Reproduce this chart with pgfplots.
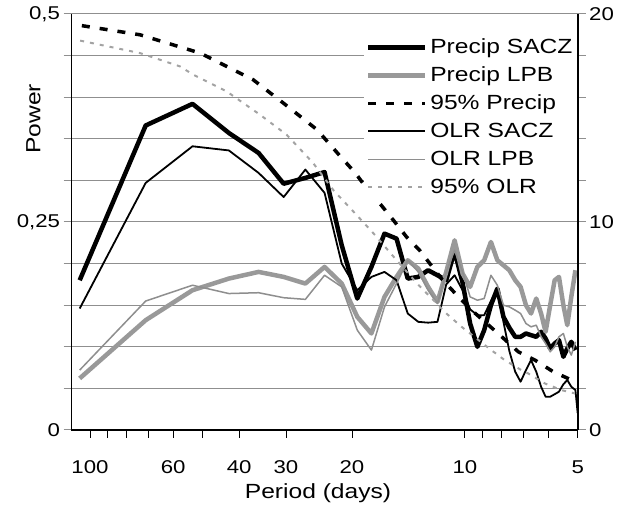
\documentclass[border=0pt]{standalone}
\usepackage{fontspec}
\setmainfont{Liberation Sans}[FakeStretch=1.2]
\usepackage{pgfplots}
\usepackage{pgfplotstable}
\pgfplotsset{compat=1.18}

\definecolor{thickgray}{HTML}{999999}
\definecolor{thingray}{HTML}{8E8E8E}
\definecolor{dotgray}{HTML}{A3A3A3}
\definecolor{gridgray}{HTML}{8F8F8F}

% power spectra, one row per harmonic (period in days)
\pgfplotstableread{
P      psacz  plpb   osacz  olpb
106.5  0.180  0.062  0.146  0.072
71     0.366  0.132  0.297  0.155
53.25  0.392  0.168  0.341  0.174
42.6   0.357  0.182  0.336  0.164
35.5   0.333  0.190  0.309  0.165
30.43  0.296  0.184  0.280  0.159
26.63  0.303  0.176  0.313  0.157
23.67  0.310  0.196  0.285  0.186
21.3   0.222  0.176  0.200  0.172
19.36  0.158  0.136  0.168  0.120
17.75  0.196  0.116  0.184  0.096
16.38  0.236  0.160  0.190  0.148
15.21  0.230  0.184  0.180  0.176
14.2   0.182  0.204  0.140  0.204
13.31  0.184  0.194  0.130  0.190
12.53  0.192  0.172  0.129  0.168
11.83  0.186  0.154  0.130  0.152
11.21  0.180  0.190  0.175  0.190
10.65  0.215  0.228  0.186  0.216
10.14  0.177  0.188  0.168  0.190
9.68   0.128  0.172  0.145  0.160
9.26   0.100  0.196  0.138  0.156
8.88   0.120  0.204  0.138  0.158
8.52   0.150  0.226  0.155  0.186
8.19   0.170  0.204  0.170  0.174
7.89   0.136  0.198  0.130  0.150
7.61   0.123  0.192  0.095  0.148
7.34   0.112  0.180  0.070  0.144
7.1    0.112  0.172  0.058  0.140
6.87   0.116  0.150  0.072  0.128
6.66   0.114  0.140  0.084  0.124
6.45   0.112  0.158  0.070  0.126
6.26   0.118  0.140  0.052  0.112
6.09   0.110  0.118  0.040  0.104
5.92   0.098  0.150  0.040  0.094
5.76   0.104  0.180  0.043  0.100
5.61   0.108  0.184  0.046  0.112
5.46   0.088  0.150  0.055  0.116
5.33   0.098  0.126  0.060  0.100
5.2    0.106  0.160  0.052  0.090
5.07   0.096  0.192  0.048  0.106
5.0    nan    nan    0.020  nan
}\spec

% 95% confidence curves
\pgfplotstableread{
P      v
105.1  0.486
73.5   0.475
50.8   0.453
45.9   0.443
36.7   0.421
30.5   0.393
24.8   0.361
21.3   0.327
19.6   0.309
18.1   0.288
16.7   0.270
15.5   0.252
14.3   0.232
13.2   0.216
12.3   0.198
11.6   0.183
10.5   0.162
9.59   0.144
7.97   0.112
7.20   0.094
6.50   0.084
5.81   0.070
5.19   0.060
}\sigprecip

\pgfplotstableread{
P      v
106.2  0.468
73.5   0.453
65.0   0.445
57.5   0.437
53.0   0.427
43.2   0.407
35.2   0.379
29.9   0.355
25.4   0.321
22.4   0.288
19.4   0.258
17.5   0.236
15.2   0.204
13.4   0.176
11.2   0.140
10.2   0.124
8.50   0.096
7.83   0.084
7.07   0.072
6.78   0.068
6.12   0.056
5.53   0.048
5.09   0.044
}\sigolr

\newcommand\bigfont{\fontsize{20.5}{24}\selectfont}
\newcommand\tickfont{\fontsize{18.5}{22}\selectfont}

\begin{document}
\begin{tikzpicture}
\path[use as bounding box] (0,0) rectangle (618pt,508pt);
\begin{axis}[
	at={(324.6pt,286pt)}, anchor=center,
	scale only axis, width=506.2pt, height=416pt,
	xmode=log, xmin=0.00892857, xmax=0.2,
	ymin=0, ymax=0.5,
	axis x line*=bottom, axis y line*=left,
	axis line style={black, line width=1.6pt},
	tick align=outside, major tick length=8pt,
	xtick={0.01,0.0111111,0.0125,0.0142857,0.0166667,0.02,0.025,0.0333333,0.05,0.1,0.111111,0.125,0.142857,0.166667,0.2},
	xticklabels={100,,,,60,,40,30,20,10,,,,,5},
	xminorticks=false,
	ytick={0,0.05,0.1,0.15,0.2,0.25,0.3,0.35,0.4,0.45,0.5},
	yticklabels={0,,,,,{0,25},,,,,{0,5}},
	xtick style={black, line width=0.8pt},
	ytick style={gridgray, line width=1pt},
	ymajorgrids, major grid style={gridgray, line width=1pt},
	tick label style={font=\tickfont},
	xticklabel style={yshift=-19pt},
	xlabel={Period (days)}, ylabel={Power},
	label style={font=\bigfont},
	xlabel style={at={(axis description cs:0.487,-0.152)}, anchor=center},
	ylabel style={at={(axis description cs:-0.075,0.748)}, anchor=center},
	legend cell align=left,
	legend image code/.code={\draw[#1] (0pt,0pt) -- (57pt,0pt);},
	legend style={at={(axis description cs:1,0.959)}, anchor=north east,
		draw=none, fill=white, font=\bigfont, row sep=0pt,
		inner xsep=2pt, inner ysep=2pt,
		nodes={inner xsep=3pt, inner ysep=3pt, text height=17pt, text depth=5pt}},
	every axis plot/.append style={line join=round},
]
\addplot[black, line width=4.5pt] table[x expr=1/\thisrow{P}, y=psacz]{\spec};
\addlegendentry{Precip SACZ}
\addplot[thickgray, line width=4.5pt] table[x expr=1/\thisrow{P}, y=plpb]{\spec};
\addlegendentry{Precip LPB}
\addplot[black, line width=3.5pt, dash pattern=on 8pt off 10pt] table[x expr=1/\thisrow{P}, y=v]{\sigprecip};
\addlegendentry{95\% Precip}
\addplot[black, line width=1.8pt] table[x expr=1/\thisrow{P}, y=osacz]{\spec};
\addlegendentry{OLR SACZ}
\addplot[thingray, line width=1.5pt] table[x expr=1/\thisrow{P}, y=olpb]{\spec};
\addlegendentry{OLR LPB}
\addplot[dotgray, line width=2pt, dash pattern=on 4pt off 6pt] table[x expr=1/\thisrow{P}, y=v]{\sigolr};
\addlegendentry{95\% OLR}
\end{axis}
\begin{axis}[
	at={(324.6pt,286pt)}, anchor=center,
	scale only axis, width=506.2pt, height=416pt,
	xmin=0, xmax=1, ymin=0, ymax=20,
	axis x line=none, axis y line*=right,
	axis line style={black, line width=1.6pt},
	tick align=outside, major tick length=8pt,
	ytick={0,2,4,6,8,10,12,14,16,18,20},
	yticklabels={0,,,,,10,,,,,20},
	ytick style={gridgray, line width=1pt},
	tick label style={font=\tickfont},
]
\end{axis}
\end{tikzpicture}
\end{document}
